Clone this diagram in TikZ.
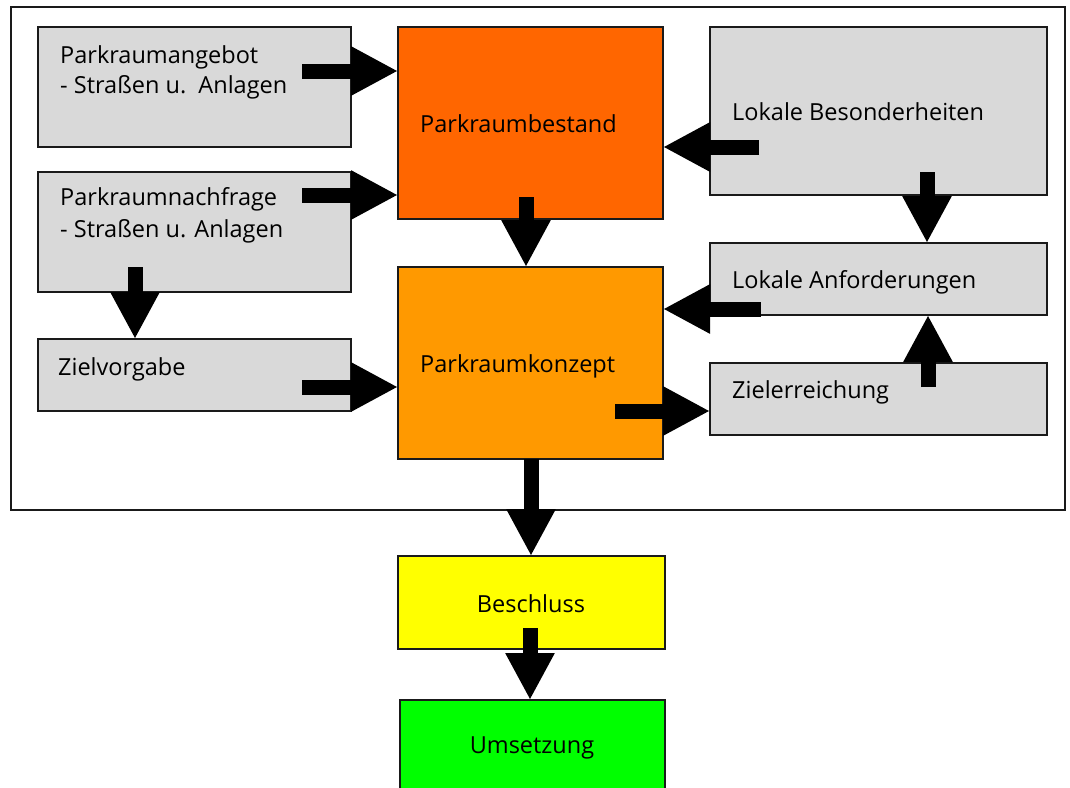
\documentclass[tikz,border=0pt]{standalone}
\usepackage{fontspec}
\setmainfont{Open Sans}
\usetikzlibrary{arrows.meta,calc}
\definecolor{boxgray}{HTML}{D9D9D9}
\definecolor{orangeA}{HTML}{FF6600}
\definecolor{orangeB}{HTML}{FF9900}
\definecolor{yel}{HTML}{FFFF00}
\definecolor{grn}{HTML}{00FF00}
\definecolor{edge}{HTML}{1A1A1A}
\begin{document}
\begin{tikzpicture}[x=1pt,y=-1pt,
  box/.style={draw=edge, line width=1.5pt, anchor=north west, inner sep=0pt, outer sep=0pt},
  graybox/.style={box, fill=boxgray},
  lbl/.style={anchor=base west, inner sep=0pt, font=\fontsize{23.5}{30}\selectfont},
  clbl/.style={anchor=base, inner sep=0pt, font=\fontsize{23.5}{30}\selectfont},
  blk/.style={line width=15pt, -{Triangle[width=46pt,length=47pt]}}]
\useasboundingbox (0,0) rectangle (1070,787);
\clip (0,0) rectangle (1070,787);
% frame
\node[draw=edge, line width=2pt, anchor=north west, inner sep=0pt, minimum width=1054pt, minimum height=503pt] (frame) at (10,6) {};
% boxes
\node[graybox, minimum width=313pt, minimum height=120pt] (ang) at (38,27) {};
\node[graybox, minimum width=313pt, minimum height=120pt] (nach) at (38,172) {};
\node[graybox, minimum width=313pt, minimum height=72pt] (ziel) at (38,339) {};
\node[box, fill=orangeA, minimum width=265pt, minimum height=192pt] (best) at (398,27) {};
\node[box, fill=orangeB, minimum width=265pt, minimum height=192pt] (konz) at (398,267) {};
\node[graybox, minimum width=337pt, minimum height=168pt] (bes) at (710,27) {};
\node[graybox, minimum width=337pt, minimum height=72pt] (anf) at (710,243) {};
\node[graybox, minimum width=337pt, minimum height=72pt] (zerr) at (710,363) {};
\node[box, fill=yel, minimum width=267pt, minimum height=93pt] (besch) at (398,556) {};
\node[box, fill=grn, minimum width=265pt, minimum height=120pt] (ums) at (400,700) {};
% texts
\node[lbl] (tang1) at (60,63) {Parkraumangebot};
\node[lbl] (tang2) at (60,93) {- Straßen u.\ \ Anlagen};
\node[lbl] (tnach1) at (60,205) {Parkraumnachfrage};
\node[lbl] (tnach2) at (60,237) {- Straßen u. Anlagen};
\node[lbl] (tziel) at (58,375) {Zielvorgabe};
\node[lbl] (tbest) at (420,132) {Parkraumbestand};
\node[lbl] (tkonz) at (420,372) {Parkraumkonzept};
\node[lbl] (tbes) at (732,120) {Lokale Besonderheiten};
\node[lbl] (tanf) at (732,288) {Lokale Anforderungen};
\node[lbl] (tzerr) at (732,398) {Zielerreichung};
\node[clbl] (tbesch) at (531,612) {Beschluss};
\node[clbl] (tums) at (532,753) {Umsetzung};
% arrows
\draw[blk] ($(ang.north east)+(-49,44)$) -- ($(best.north west)+(0,44)$);
\draw[blk] ($(nach.north east)+(-49,23)$) -- ($(best.north west)+(0,168)$);
\draw[blk] ($(best.south west)+(128,-22)$) -- ($(konz.north west)+(128,0)$);
\draw[blk] ($(bes.north west)+(49,120)$) -- ($(best.north east)+(0,120)$);
\draw[blk] ($(bes.south west)+(217,-23)$) -- ($(anf.north west)+(217,0)$);
\draw[blk] ($(anf.north west)+(51,66)$) -- ($(konz.north east)+(0,42)$);
\draw[blk] ($(zerr.north west)+(218,24)$) -- ($(anf.south west)+(218,0)$);
\draw[blk] ($(konz.north east)+(-48,144)$) -- ($(zerr.north west)+(0,48)$);
\draw[blk] ($(nach.south west)+(97,-25)$) -- ($(ziel.north west)+(97,0)$);
\draw[blk] ($(ziel.north west)+(264,48)$) -- ($(konz.north west)+(0,120)$);
\draw[blk] ($(konz.south west)+(133,0)$) -- ($(besch.north west)+(133,0)$);
\draw[blk] ($(besch.north west)+(132,72)$) -- ($(ums.north west)+(130,0)$);
\end{tikzpicture}
\end{document}
